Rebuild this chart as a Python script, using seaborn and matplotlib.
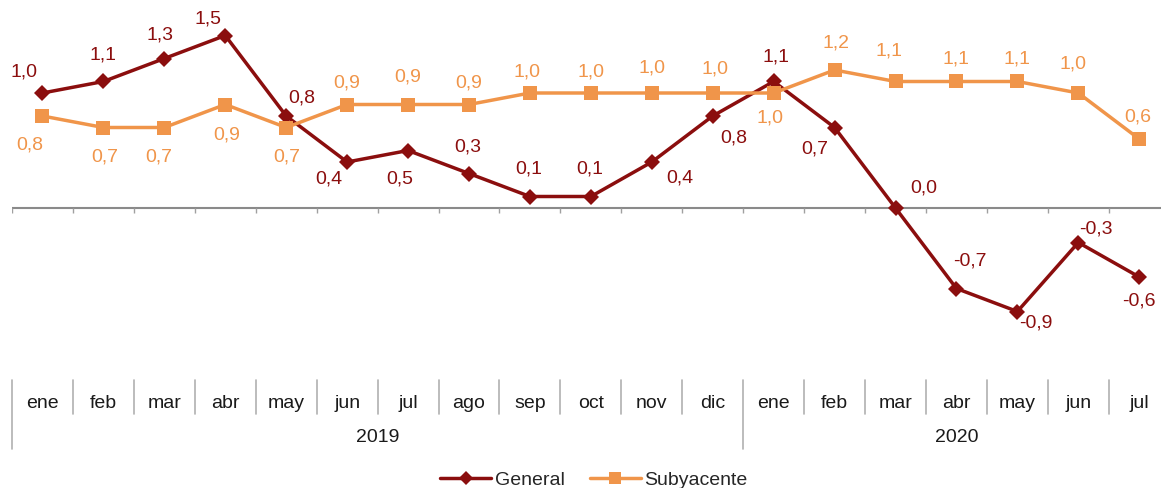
import pandas as pd
import matplotlib.pyplot as plt
import seaborn as sns
from matplotlib.transforms import blended_transform_factory
from matplotlib.lines import Line2D

# data
months = ["ene", "feb", "mar", "abr", "may", "jun", "jul", "ago", "sep", "oct", "nov", "dic",
          "ene", "feb", "mar", "abr", "may", "jun", "jul"]
years = ["2019", "2020"]
year_len = [12, 7]
general = [1.0, 1.1, 1.3, 1.5, 0.8, 0.4, 0.5, 0.3, 0.1, 0.1, 0.4, 0.8,
           1.1, 0.7, 0.0, -0.7, -0.9, -0.3, -0.6]
subyacente = [0.8, 0.7, 0.7, 0.9, 0.7, 0.9, 0.9, 0.9, 1.0, 1.0, 1.0, 1.0,
              1.0, 1.2, 1.1, 1.1, 1.1, 1.0, 0.6]

# label offsets in pixels (x right, y down)
gen_off = [(-18, -21), (0, -27), (-4, -23), (-17, -16), (16, -18), (-18, 17), (-8, 28),
           (-1, -27), (-1, -27), (-1, -27), (28, 16), (21, 22), (2, -24), (-20, 21),
           (28, -20), (13, -28), (18, 12), (18, -14), (0, 24)]
sub_off = [(-13, 29), (1, 29), (-6, 29), (1, 31), (1, 29), (0, -22), (0, -27), (0, -22),
           (-3, -21), (0, -21), (0, -25), (2, -24), (-4, 25), (1, -27), (-7, -31),
           (0, -22), (0, -22), (-5, -29), (-1, -22)]

RED = "#8B0E0E"
ORANGE = "#F0954A"
SIZES = {"General": 8.5, "Subyacente": 10.5}

sns.set_style("white")
plt.rcParams["font.family"] = ["Liberation Sans", "DejaVu Sans"]

df = pd.DataFrame({
    "idx": list(range(len(months))) * 2,
    "valor": general + subyacente,
    "serie": ["General"] * len(general) + ["Subyacente"] * len(subyacente),
})

fig = plt.figure(figsize=(11.61, 4.88), dpi=100)
W, H = 1161, 488
ax = fig.add_axes([12 / W, (H - 380.5) / H, 1157.7 / W, 379.5 / H])

sns.lineplot(data=df, x="idx", y="valor", hue="serie", style="serie",
             palette={"General": RED, "Subyacente": ORANGE},
             markers={"General": "D", "Subyacente": "s"}, dashes=False,
             linewidth=2.5, markeredgewidth=0, ax=ax, legend=True)
ax.lines[0].set_markersize(SIZES["General"])
ax.lines[1].set_markersize(SIZES["Subyacente"])

ax.set_xlim(-0.5, len(months) - 0.5)
ax.set_ylim(-1.5, 1.8)
ax.axhline(0, color="#8a8a8a", lw=1.5, zorder=0)
ax.vlines([k - 0.5 for k in range(len(months) + 1)], -5 / 115, 0, color="#a0a0a0", lw=1, zorder=0)
for s in ax.spines.values():
    s.set_visible(False)
ax.set_xticks([])
ax.set_yticks([])
ax.set_xlabel("")
ax.set_ylabel("")

def fmt(v):
    return f"{v:.1f}".replace(".", ",")

for i, v in enumerate(general):
    dx, dy = gen_off[i]
    ax.annotate(fmt(v), (i, v), xytext=(dx * 0.72, -dy * 0.72), textcoords="offset points",
                ha="center", va="center", fontsize=14, color=RED)
for i, v in enumerate(subyacente):
    dx, dy = sub_off[i]
    ax.annotate(fmt(v), (i, v), xytext=(dx * 0.72, -dy * 0.72), textcoords="offset points",
                ha="center", va="center", fontsize=14, color=ORANGE)

# category table below the chart
tr = blended_transform_factory(ax.transData, fig.transFigure)
year_starts = [0, year_len[0]]
for k in range(len(months)):
    y0 = 449 if k in year_starts else 414
    fig.add_artist(Line2D([k - 0.5, k - 0.5], [(H - 380) / H, (H - y0) / H],
                          transform=tr, color="#b0b0b0", lw=1.2))
for i, m in enumerate(months):
    ax.text(i, (H - 403) / H, m, transform=tr, ha="center", va="center", fontsize=14, color="#1a1a1a")
start = 0
for y, n in zip(years, year_len):
    ax.text(start + (n - 1) / 2, (H - 437) / H, y, transform=tr, ha="center", va="center",
            fontsize=14, color="#1a1a1a")
    start += n

handles, labels = ax.get_legend_handles_labels()
for h, l in zip(handles, labels):
    h.set_markersize(SIZES[l] * 0.8)
    h.set_markeredgewidth(0)
ax.get_legend().remove()
fig.legend(handles, labels, loc="center", bbox_to_anchor=(594 / W, (H - 480) / H), ncol=2,
           frameon=False, fontsize=14, handlelength=2.6, handletextpad=0.2, columnspacing=1.3,
           borderpad=0)

fig.savefig("out.png", dpi=100)
